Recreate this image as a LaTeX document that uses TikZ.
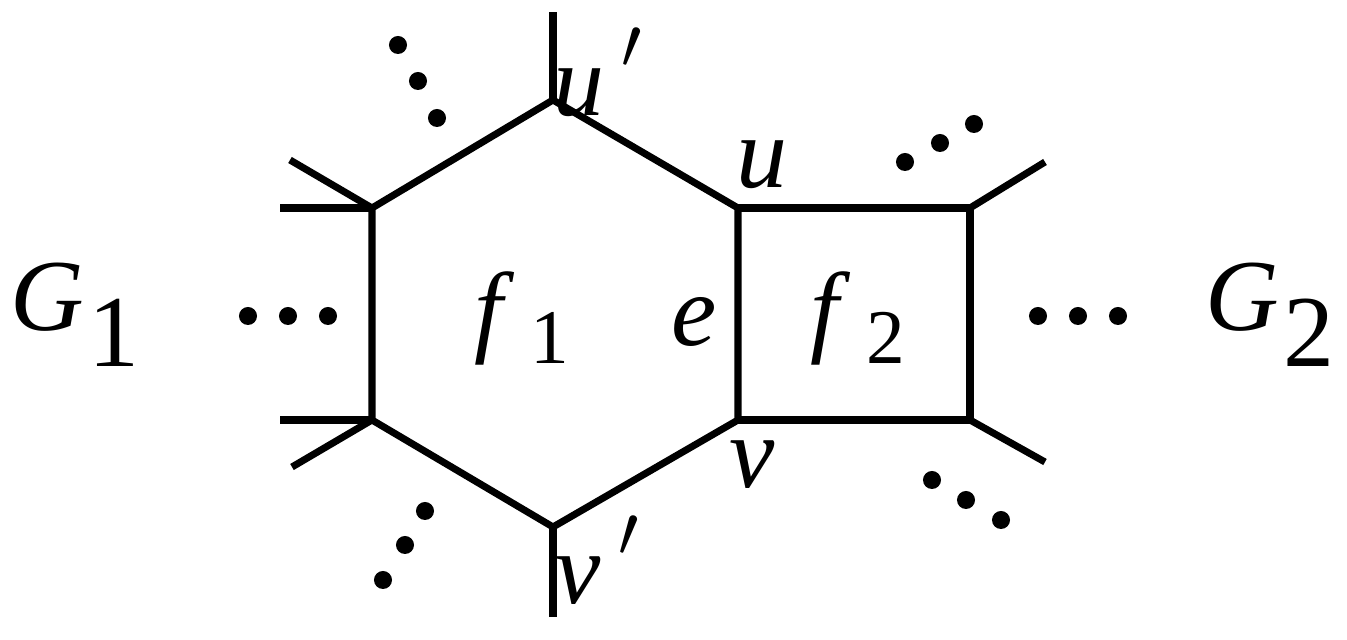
\documentclass[tikz,border=0pt]{standalone}
\usepackage{fontspec}
\setmainfont{Liberation Serif}
\begin{document}
\begin{tikzpicture}[x=0.01cm,y=-0.01cm,line width=2pt,
  dotm/.style={circle,fill=black,inner sep=0pt,minimum size=0.18cm},
  lab/.style={font=\fontsize{29}{30}\selectfont\itshape,inner sep=0pt}]
\useasboundingbox (0,0) rectangle (1347,640);
\coordinate (up) at (553,100);
\coordinate (tl) at (372,208);
\coordinate (bl) at (372,420);
\coordinate (vp) at (553,527);
\coordinate (v) at (738,420);
\coordinate (u) at (738,208);
\coordinate (tr) at (970,208);
\coordinate (br) at (970,420);
\draw (up)--(tl)--(bl)--(vp)--(v)--(u)--cycle;
\draw (u)--(tr)--(br)--(v);
\coordinate (s1) at (553,12); \coordinate (s2) at (553,617);
\coordinate (s3) at (290,160); \coordinate (s4) at (280,208);
\coordinate (s5) at (280,420); \coordinate (s6) at (292,467);
\coordinate (s7) at (1045,162); \coordinate (s8) at (1045,462);
\draw (up)--(s1); \draw (vp)--(s2);
\draw (tl)--(s3); \draw (tl)--(s4);
\draw (bl)--(s5); \draw (bl)--(s6);
\draw (tr)--(s7); \draw (br)--(s8);
\foreach \p [count=\i] in {(398,45),(418,81),(437,118),(383,580),(405,545),(425,511),
  (905,162),(940,143),(974,124),(932,480),(966,500),(1001,520),
  (248,316),(288,316),(328,316),(1038,316),(1078,316),(1118,316)}
  \node[dotm] (d\i) at \p {};
\node[lab] (G1) at (75,315) {G\kern1pt{\upshape\raisebox{-0.35em}{1}}};
\node[lab] (G2) at (1270,315) {G\kern1pt{\upshape\raisebox{-0.35em}{2}}};
\node[lab] (f1) at (522,318) {f\kern8pt{\upshape\raisebox{-0.2em}{\fontsize{22}{22}\selectfont 1}}};
\node[lab] (f2) at (858,318) {f\kern8pt{\upshape\raisebox{-0.2em}{\fontsize{22}{22}\selectfont 2}}};
\node[lab] (e) at (694,322) {e};
\node[lab] (lu) at (762,165) {u};
\node[lab] (lv) at (752,465) {v};
\node[lab] (lup) at (598,72) {u\,\upshape\raisebox{0.15em}{$'$}};
\node[lab] (lvp) at (598,560) {v\,\upshape\raisebox{0.15em}{$'$}};
\end{tikzpicture}
\end{document}
